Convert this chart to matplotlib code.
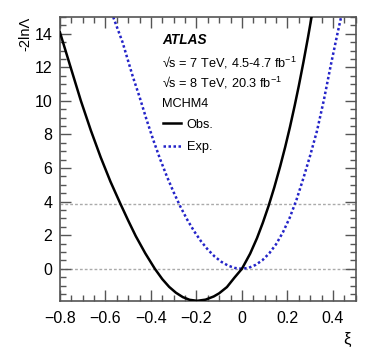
import numpy as np
import matplotlib
matplotlib.use('Agg')
import matplotlib.pyplot as plt
from matplotlib.ticker import MultipleLocator

plt.rcParams['font.family'] = ['Liberation Sans', 'DejaVu Sans']
plt.rcParams['mathtext.fontset'] = 'custom'
plt.rcParams['mathtext.rm'] = 'Liberation Sans'
plt.rcParams['mathtext.it'] = 'Liberation Sans:italic'

obs_xi = [-0.8, -0.752, -0.708, -0.664, -0.621, -0.578, -0.534, -0.5, -0.467,
          -0.425, -0.383, -0.35, -0.32, -0.29, -0.26, -0.23, -0.197, -0.16,
          -0.124, -0.1, -0.066, -0.033, 0.0, 0.036, 0.066, 0.092, 0.117, 0.142,
          0.168, 0.19, 0.211, 0.232, 0.25, 0.27, 0.29, 0.306]
obs_val = [14.08, 11.95, 10.0, 8.23, 6.64, 5.19, 3.86, 2.87, 1.95,
           0.92, 0.0, -0.62, -1.08, -1.43, -1.69, -1.85, -1.91, -1.84,
           -1.65, -1.46, -1.09, -0.53, 0.0, 0.90, 1.82, 2.75, 3.74, 4.84,
           6.10, 7.25, 8.44, 9.73, 10.9, 12.29, 13.76, 15.0]

# expected
exp_xi = [-0.566, -0.525, -0.481, -0.45, -0.42, -0.39, -0.36, -0.33, -0.3,
          -0.27, -0.24, -0.21, -0.18, -0.15, -0.12, -0.09, -0.06, -0.03, 0.0,
          0.03, 0.06, 0.09, 0.12, 0.15, 0.18, 0.21, 0.24, 0.27, 0.3, 0.33,
          0.36, 0.39, 0.42, 0.436]
exp_val = [15.0, 13.5, 11.5, 10.23, 8.91, 7.68, 6.54, 5.5, 4.55,
           3.68, 2.91, 2.23, 1.64, 1.14, 0.73, 0.41, 0.18, 0.045, 0.0,
           0.057, 0.23, 0.51, 0.92, 1.46, 2.17, 3.04, 4.12, 5.39, 6.75, 8.22,
           10.04, 12.09, 14.02, 15.0]

ref_lines = [0.0, 3.84]

fig = plt.figure(figsize=(3.74, 3.59), dpi=100)
ax = fig.add_axes([0.1604, 0.1616, 0.7906, 0.791])

for r in ref_lines:
    ax.axhline(r, color='#aaaaaa', lw=1.0, ls=(0, (2, 1.5)), zorder=1)

ax.plot(obs_xi, obs_val, color='black', lw=1.8, label='Obs.', zorder=3,
        solid_joinstyle='round')
ax.plot(exp_xi, exp_val, color='#2323c8', lw=1.8, ls=(0, (1, 1)), label='Exp.', zorder=2)

ax.set_xlim(-0.8, 0.5)
ax.set_ylim(-1.92, 15)

ax.xaxis.set_major_locator(MultipleLocator(0.2))
ax.xaxis.set_minor_locator(MultipleLocator(0.05))
ax.yaxis.set_major_locator(MultipleLocator(2))
ax.yaxis.set_minor_locator(MultipleLocator(0.5))
ax.tick_params(which='both', direction='in', top=True, right=True, colors='#555555',
               labelcolor='black', labelsize=11.5)
ax.tick_params(which='major', length=8, width=1.0)
ax.tick_params(which='minor', length=4, width=1.0)
ax.tick_params(axis='x', which='major', pad=7.5)
ax.tick_params(axis='y', which='major', pad=5.5)
ax.set_xticks([-0.8, -0.6, -0.4, -0.2, 0, 0.2, 0.4])
ax.set_xticklabels(['\u22120.8', '\u22120.6', '\u22120.4', '\u22120.2', '0', '0.2', '0.4'])
for s in ax.spines.values():
    s.set_color('#555555')
    s.set_linewidth(1.2)

ax.set_xlabel('\u03be', fontsize=12, loc='right')
ax.set_ylabel('-2ln\u039b', fontsize=10.5, loc='top')
ax.xaxis.set_label_coords(0.985, -0.11)
ax.yaxis.set_label_coords(-0.095, 1.0)

tx = 0.345
ax.text(tx, 0.919, 'ATLAS', transform=ax.transAxes, fontsize=9.8, fontweight='bold',
        fontstyle='italic', va='center')
ax.text(tx, 0.839, '\u221as = 7 TeV, 4.5-4.7 fb$^{-1}$', transform=ax.transAxes,
        fontsize=9.2, va='center')
ax.text(tx, 0.768, '\u221as = 8 TeV, 20.3 fb$^{-1}$', transform=ax.transAxes,
        fontsize=9.2, va='center')
ax.text(tx, 0.694, 'MCHM4', transform=ax.transAxes, fontsize=9.2, va='center')

ax.legend(loc='center left', bbox_to_anchor=(0.348, 0.581), frameon=False, fontsize=9.2,
          handlelength=1.4, handletextpad=0.45, labelspacing=0.84, borderpad=0,
          borderaxespad=0)

fig.savefig('out.png', dpi=100)
